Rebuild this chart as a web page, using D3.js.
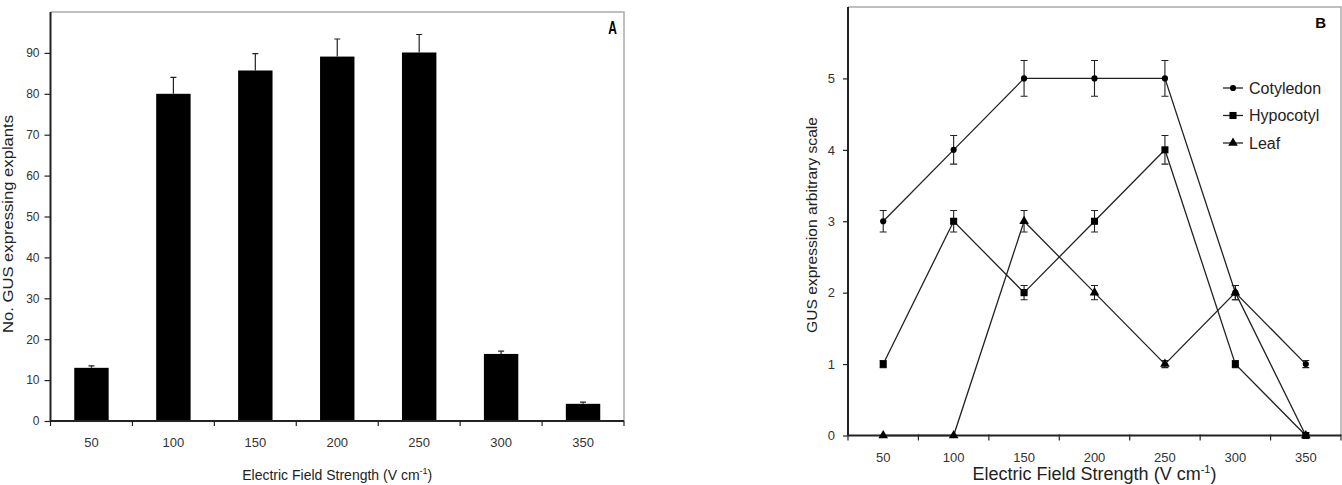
<!DOCTYPE html>
<html>
<head>
<meta charset="utf-8">
<script src="https://cdn.jsdelivr.net/npm/d3@7"></script>
<style>
  html, body { margin: 0; padding: 0; background: #fff; }
  svg { display: block; font-family: "Liberation Sans", Arial, sans-serif; }
</style>
</head>
<body>
<svg id="chart" width="1342" height="485"></svg>
<script>
// Daten
const fieldStrengths = ["50", "100", "150", "200", "250", "300", "350"];

// Panel A: Anzahl GUS-exprimierender Explantate
const explants    = [13, 80, 85.7, 89.1, 90.1, 16.4, 4.2];
const explantsErr = [0.5, 4, 4.1, 4.3, 4.4, 0.7, 0.4];
const ticksA      = [0, 10, 20, 30, 40, 50, 60, 70, 80, 90];

// Panel B: GUS-Expression, willkürliche Skala
const cotyledon    = [3, 4, 5, 5, 5, 2, 1];
const cotyledonErr = [0.15, 0.2, 0.25, 0.25, 0.25, 0.1, 0.05];
const hypocotyl    = [1, 3, 2, 3, 4, 1, 0];
const hypocotylErr = [0.05, 0.15, 0.1, 0.15, 0.2, 0.05, 0];
const leaf         = [0, 0, 3, 2, 1, 2, 0];
const leafErr      = [0, 0, 0.15, 0.1, 0.05, 0.1, 0];
const ticksB       = [0, 1, 2, 3, 4, 5];

const seriesB = [
  { name: "Cotyledon", values: cotyledon, err: cotyledonErr, symbol: d3.symbolCircle,   size: 30 },
  { name: "Hypocotyl", values: hypocotyl, err: hypocotylErr, symbol: d3.symbolSquare,   size: 50 },
  { name: "Leaf",      values: leaf,      err: leafErr,      symbol: d3.symbolTriangle, size: 40 }
];

const svg = d3.select("#chart");
const ink = "#222";
const frame = "#aaa";
const narrow = "'Liberation Sans Narrow', 'Arial Narrow', 'Liberation Sans', Arial, sans-serif";

function styleAxis(ax, size) {
  ax.select(".domain").attr("stroke", ink).attr("stroke-width", 2);
  ax.selectAll(".tick line").attr("stroke", ink).attr("stroke-width", 1.2);
  ax.selectAll(".tick text").attr("fill", "#333")
    .style("font-size", size + "px")
    .style("font-family", narrow);
}

// ---------- Panel A ----------
const xA = d3.scaleBand().domain(fieldStrengths).range([50.5, 624]).padding(0);
const yA = d3.scaleLinear().domain([0, 100]).range([421, 12]);
const gA = svg.append("g");

// Rahmen oben / rechts (grau)
gA.append("path")
  .attr("d", `M${xA.range()[0]},${yA(100)}H${xA.range()[1]}V${yA(0)}`)
  .attr("fill", "none").attr("stroke", frame).attr("stroke-width", 1.5);

// Balken
const barW = xA.bandwidth() * 0.42;
gA.selectAll("rect.bar")
  .data(fieldStrengths)
  .join("rect")
  .attr("class", "bar")
  .attr("x", d => xA(d) + xA.bandwidth() / 2 - barW / 2)
  .attr("y", (d, i) => yA(explants[i]))
  .attr("width", barW)
  .attr("height", (d, i) => yA(0) - yA(explants[i]))
  .attr("fill", "#000");

// Fehlerbalken (nur nach oben)
fieldStrengths.forEach((d, i) => {
  const cx = xA(d) + xA.bandwidth() / 2;
  const top = yA(explants[i] + explantsErr[i]);
  gA.append("path")
    .attr("d", `M${cx},${yA(explants[i])}V${top}M${cx - 3},${top}H${cx + 3}`)
    .attr("stroke", ink).attr("stroke-width", 1.2).attr("fill", "none");
});

// Achsen
const axA = gA.append("g")
  .attr("transform", `translate(${xA.range()[0]},0)`)
  .call(d3.axisLeft(yA).tickValues(ticksA).tickFormat(d3.format("d")).tickSize(6).tickPadding(5));
axA.select(".domain").attr("d", `M0,${yA(100)}V${yA(0)}`);

const bxA = gA.append("g")
  .attr("transform", `translate(0,${yA(0)})`)
  .call(d3.axisBottom(xA).tickSize(0).tickPadding(17));
bxA.select(".domain").attr("d", `M${xA.range()[0]},0H${xA.range()[1]}`);
bxA.selectAll(".sep")
  .data(d3.range(fieldStrengths.length + 1))
  .join("line")
  .attr("class", "sep")
  .attr("x1", i => xA.range()[0] + i * xA.bandwidth())
  .attr("x2", i => xA.range()[0] + i * xA.bandwidth())
  .attr("y1", 0).attr("y2", 5)
  .attr("stroke", ink).attr("stroke-width", 1.2);

styleAxis(axA, 12);
styleAxis(bxA, 13);

// Achsentitel A
gA.append("text")
  .attr("x", (xA.range()[0] + xA.range()[1]) / 2)
  .attr("y", 480)
  .attr("text-anchor", "middle")
  .attr("fill", ink)
  .style("font-size", "14px")
  .html('Electric Field Strength (V cm<tspan dy="-6" font-size="9">-1</tspan><tspan dy="6">)</tspan>');

gA.append("text")
  .attr("transform", "translate(13,224) rotate(-90)")
  .attr("text-anchor", "middle")
  .attr("fill", ink)
  .attr("textLength", 218)
  .attr("lengthAdjust", "spacingAndGlyphs")
  .style("font-size", "15px")
  .text("No. GUS expressing explants");

gA.append("text")
  .attr("transform", "translate(617,34) scale(1,1.5)")
  .attr("text-anchor", "end")
  .attr("font-weight", "bold")
  .attr("fill", "#000")
  .style("font-size", "12px")
  .text("A");

// ---------- Panel B ----------
const xB = d3.scaleBand().domain(fieldStrengths).range([848, 1341]).padding(0);
const yB = d3.scaleLinear().domain([0, 6]).range([435.5, 7]);
const gB = svg.append("g");
const cxB = d => xB(d) + xB.bandwidth() / 2;

gB.append("path")
  .attr("d", `M${xB.range()[0]},${yB(6)}H${xB.range()[1]}V${yB(0)}`)
  .attr("fill", "none").attr("stroke", frame).attr("stroke-width", 1.5);

const axB = gB.append("g")
  .attr("transform", `translate(${xB.range()[0]},0)`)
  .call(d3.axisLeft(yB).tickValues(ticksB).tickFormat(d3.format("d")).tickSize(5).tickPadding(8));
axB.select(".domain").attr("d", `M0,${yB(6)}V${yB(0)}`);

const bxB = gB.append("g")
  .attr("transform", `translate(0,${yB(0)})`)
  .call(d3.axisBottom(xB).tickSize(0).tickPadding(17));
bxB.select(".domain").attr("d", `M${xB.range()[0]},0H${xB.range()[1]}`);
bxB.selectAll(".sep")
  .data(d3.range(fieldStrengths.length + 1))
  .join("line")
  .attr("class", "sep")
  .attr("x1", i => xB.range()[0] + i * xB.bandwidth())
  .attr("x2", i => xB.range()[0] + i * xB.bandwidth())
  .attr("y1", -1).attr("y2", 5)
  .attr("stroke", ink).attr("stroke-width", 1.2);

styleAxis(axB, 13);
styleAxis(bxB, 13);

// Linien, Fehlerbalken, Marker
const line = d3.line().x((v, i) => cxB(fieldStrengths[i])).y(v => yB(v));
seriesB.forEach(s => {
  gB.append("path")
    .attr("d", line(s.values))
    .attr("fill", "none").attr("stroke", ink).attr("stroke-width", 1.3);
});
seriesB.forEach(s => {
  s.values.forEach((v, i) => {
    if (s.err[i] <= 0) return;
    const cx = cxB(fieldStrengths[i]);
    const y1 = yB(v + s.err[i]), y2 = yB(v - s.err[i]);
    gB.append("path")
      .attr("d", `M${cx},${y1}V${y2}M${cx - 3.5},${y1}H${cx + 3.5}M${cx - 3.5},${y2}H${cx + 3.5}`)
      .attr("stroke", ink).attr("stroke-width", 1.1).attr("fill", "none");
  });
  gB.selectAll(null)
    .data(s.values)
    .join("path")
    .attr("transform", (v, i) => `translate(${cxB(fieldStrengths[i])},${yB(v)})`)
    .attr("d", d3.symbol().type(s.symbol).size(s.size))
    .attr("fill", "#000");
});

// Legende
const legend = gB.append("g").attr("transform", "translate(1223,88)");
seriesB.forEach((s, i) => {
  const row = legend.append("g").attr("transform", `translate(0,${i * 27.5})`);
  row.append("line").attr("x1", 0).attr("x2", 20)
    .attr("stroke", ink).attr("stroke-width", 1.3);
  row.append("path").attr("transform", "translate(10,0)")
    .attr("d", d3.symbol().type(s.symbol).size(s.size)).attr("fill", "#000");
  row.append("text").attr("x", 26).attr("dy", "0.36em")
    .attr("fill", ink).style("font-size", "16px").text(s.name);
});

// Achsentitel B
gB.append("text")
  .attr("x", (xB.range()[0] + xB.range()[1]) / 2)
  .attr("y", 480)
  .attr("text-anchor", "middle")
  .attr("fill", ink)
  .style("font-size", "18px")
  .html('Electric Field Strength (V cm<tspan dy="-7" font-size="11">-1</tspan><tspan dy="7">)</tspan>');

gB.append("text")
  .attr("transform", "translate(817,225) rotate(-90)")
  .attr("text-anchor", "middle")
  .attr("fill", ink)
  .attr("textLength", 216)
  .attr("lengthAdjust", "spacingAndGlyphs")
  .style("font-size", "15px")
  .text("GUS expression arbitrary scale");

gB.append("text")
  .attr("x", 1326).attr("y", 28)
  .attr("text-anchor", "end")
  .attr("font-weight", "bold")
  .attr("fill", "#000")
  .style("font-size", "15px")
  .text("B");
</script>
</body>
</html>
